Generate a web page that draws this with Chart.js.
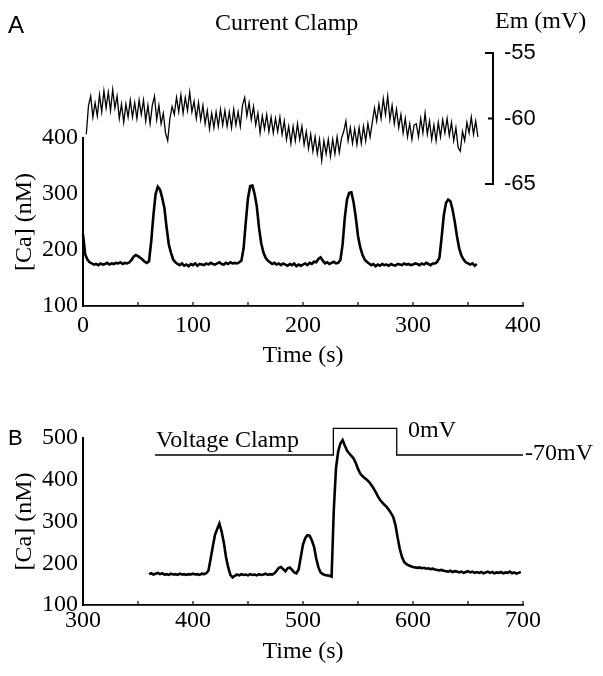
<!DOCTYPE html>
<html>
<head>
<meta charset="utf-8">
<script src="https://cdn.jsdelivr.net/npm/chart.js@4.4.0/dist/chart.umd.min.js"></script>
<style>
  html, body { margin: 0; padding: 0; background: #fff; }
  #wrap { position: relative; width: 603px; height: 676px; }
  canvas { position: absolute; left: 0; }
</style>
</head>
<body>
<div id="wrap">
  <canvas id="chartA" width="603" height="380" style="top:0"></canvas>
  <canvas id="chartB" width="603" height="296" style="top:380px"></canvas>
</div>
<script>
// ---- data ----
// panel A, membrane potential (mV), sampled every 2 s from t = 3 s
const emStart = 3, emStep = 2;
const emValues = [
  -61.2, -59.0, -58.3, -59.9, -58.8, -59.8, -58.2, -59.5, -57.9, -59.2,
  -58.0, -59.4, -57.8, -59.2, -58.3, -60.0, -58.9, -60.3, -58.9, -59.9,
  -58.6, -59.9, -58.8, -60.0, -58.6, -59.7, -58.6, -60.2, -59.0, -60.4,
  -59.0, -58.3, -60.1, -59.0, -60.4, -59.6, -61.1, -61.7, -60.0, -59.1,
  -59.7, -58.4, -59.5, -58.2, -59.6, -58.4, -59.4, -58.0, -59.5, -58.7,
  -60.0, -58.8, -60.1, -59.0, -60.4, -59.4, -60.8, -59.6, -60.7, -59.5,
  -60.6, -59.3, -60.5, -59.4, -60.6, -59.5, -60.7, -59.3, -60.5, -59.5,
  -60.6, -59.0, -58.4, -59.8, -58.8, -60.1, -59.1, -60.5, -59.6, -61.1,
  -59.8, -60.8, -59.7, -61.0, -59.9, -61.1, -60.0, -61.0, -59.9, -61.2,
  -60.2, -61.6, -60.6, -61.9, -60.6, -61.7, -60.4, -61.6, -60.6, -62.0,
  -61.0, -62.3, -61.2, -62.5, -61.4, -62.7, -61.6, -63.2, -61.7, -62.7,
  -61.6, -62.9, -61.6, -62.7, -61.4, -62.6, -61.5, -61.0, -60.2, -61.7,
  -60.7, -61.9, -60.8, -62.0, -60.7, -61.9, -60.6, -61.7, -60.4, -61.4,
  -60.3, -59.2, -60.2, -58.9, -60.0, -58.5, -59.7, -58.3, -60.1, -59.0,
  -60.4, -59.3, -60.7, -59.7, -61.1, -60.0, -61.4, -60.4, -61.6, -60.5,
  -60.4, -61.4, -60.0, -61.1, -59.6, -61.2, -60.2, -61.6, -60.5, -61.7,
  -60.3, -61.4, -60.1, -61.1, -60.0, -61.3, -60.3, -61.7, -60.7, -62.2,
  -62.5, -61.0, -61.7, -60.3, -61.1, -59.9, -61.2, -60.2, -61.4
];

// panel A, [Ca] (nM), every 2 s from t = 0 s
const caAStart = 0, caAStep = 2;
const caAValues = [
  228, 192, 183, 178, 176, 174, 175, 173, 176, 174,
  175, 177, 174, 176, 175, 177, 176, 178, 175, 177,
  176, 178, 182, 188, 191, 189, 186, 183, 179, 177,
  180, 215, 262, 300, 313, 308, 293, 275, 240, 210,
  195, 183, 178, 175, 173, 176, 172, 174, 171, 175,
  173, 176, 172, 175, 174, 173, 176, 174, 177, 175,
  174, 176, 178, 175, 174, 177, 175, 178, 176, 177,
  176, 178, 181, 203, 250, 293, 314, 315, 300, 278,
  240, 212, 196, 186, 181, 178, 175, 177, 174, 176,
  173, 176, 174, 172, 175, 173, 176, 171, 174, 172,
  174, 176, 173, 177, 175, 179, 178, 184, 187, 181,
  176, 178, 175, 177, 179, 176, 177, 182, 210, 258,
  290, 302, 303, 285, 258, 225, 205, 192, 183, 179,
  176, 173, 175, 171, 174, 172, 175, 173, 174, 172,
  175, 173, 172, 175, 174, 173, 176, 174, 175, 173,
  174, 176, 175, 173, 176, 174, 177, 175, 173, 176,
  176, 179, 186, 222, 262, 284, 290, 287, 272, 250,
  224, 203, 190, 183, 178, 176, 174, 176, 172, 175
];

// panel B, [Ca] (nM), every 2 s from t = 360 s
const caBStart = 360, caBStep = 2;
const caBValues = [
  174, 176, 173, 175, 177, 174, 176, 173, 174, 172,
  175, 173, 174, 172, 175, 173, 174, 172, 174, 173,
  175, 173, 174, 172, 175, 174, 176, 182, 210, 240,
  268, 282, 295, 276, 250, 215, 190, 172, 166, 170,
  173, 171, 174, 172, 173, 171, 174, 172, 173, 171,
  174, 172, 173, 175, 172, 174, 173, 176, 182, 189,
  191, 186, 181, 188, 190, 184, 178, 176, 185, 215,
  245, 260, 267, 266, 255, 240, 212, 190, 178, 174,
  172, 171, 170, 168, 328, 428, 468, 487, 495, 482,
  470, 463, 457, 451, 440, 426, 415, 409, 404, 400,
  395, 388, 380, 371, 361, 352, 346, 340, 335, 328,
  320, 311, 292, 262, 234, 215, 203, 198, 195, 193,
  191, 190, 189, 190, 188, 189, 187, 188, 186, 187,
  185, 184, 183, 184, 182, 181, 180, 182, 179, 181,
  180, 178, 180, 177, 179, 181, 178, 180, 177, 179,
  177, 179, 176, 178, 180, 177, 179, 176, 178, 177,
  179, 176, 178, 177, 180, 176, 178, 175, 177, 179
];

// panel B, command voltage steps
const vTimes = [365.5, 527.6, 585.2, 700];
const vLevels = [-70, 0, -70, -70];

const emTicks = [-55, -60, -65];

// ---- helpers ----
function series(start, step, values) {
  return values.map((v, i) => ({ x: start + i * step, y: v }));
}

function innerTicks(ctx, scale, y, step, len) {
  ctx.lineWidth = 1.2;
  ctx.beginPath();
  for (let v = scale.min + step; v <= scale.max + 0.01; v += step) {
    const px = scale.getPixelForValue(v);
    ctx.moveTo(px, y);
    ctx.lineTo(px, y - len);
  }
  ctx.stroke();
}

Chart.defaults.font.family = '"Liberation Serif", "Times New Roman", serif';
Chart.defaults.font.size = 24;
Chart.defaults.color = '#000';

const axisLine = { display: true, color: '#000', width: 1.8 };
const noGrid = { display: true, drawOnChartArea: false, drawTicks: false };

// ---- panel A ----
const annotateA = {
  id: 'annotateA',
  afterDraw(chart) {
    const { ctx, scales } = chart;
    const x = scales.x, em = scales.em;
    ctx.save();
    ctx.strokeStyle = '#000';
    ctx.fillStyle = '#000';
    innerTicks(ctx, x, chart.chartArea.bottom, 50, 4);

    // Em scale bracket
    const bx = x.getPixelForValue(372.7);
    const yTop = em.getPixelForValue(-55);
    const yMid = em.getPixelForValue(-60);
    const yBot = em.getPixelForValue(-65);
    ctx.lineWidth = 2;
    ctx.beginPath();
    ctx.moveTo(bx - 8, yTop); ctx.lineTo(bx, yTop);
    ctx.lineTo(bx, yBot); ctx.lineTo(bx - 8, yBot);
    ctx.moveTo(bx - 5, yMid); ctx.lineTo(bx, yMid);
    ctx.stroke();

    ctx.font = '22px "Liberation Sans", Arial, sans-serif';
    ctx.textAlign = 'left';
    ctx.textBaseline = 'middle';
    emTicks.forEach(v => ctx.fillText(String(v), bx + 11, em.getPixelForValue(v)));

    ctx.textBaseline = 'alphabetic';
    ctx.font = '24px "Liberation Serif", serif';
    ctx.fillText('Em (mV)', 495, 28);
    ctx.fillText('Current Clamp', 215, 30);
    ctx.font = '24px "Liberation Sans", Arial, sans-serif';
    ctx.fillText('A', 8, 33);
    ctx.restore();
  }
};

new Chart(document.getElementById('chartA'), {
  type: 'line',
  data: {
    datasets: [
      {
        label: 'Em',
        data: series(emStart, emStep, emValues),
        xAxisID: 'x', yAxisID: 'em',
        borderColor: '#000', borderWidth: 1.3,
        pointRadius: 0, tension: 0, clip: false
      },
      {
        label: '[Ca]',
        data: series(caAStart, caAStep, caAValues),
        xAxisID: 'x', yAxisID: 'ca',
        borderColor: '#000', borderWidth: 2.6,
        pointRadius: 0, tension: 0, clip: false
      }
    ]
  },
  options: {
    responsive: false,
    animation: false,
    events: [],
    layout: { padding: { left: 0, right: 80, top: 138, bottom: 0 } },
    plugins: { legend: { display: false }, tooltip: { enabled: false } },
    scales: {
      x: {
        type: 'linear', min: 0, max: 400,
        border: axisLine, grid: noGrid,
        ticks: { stepSize: 100, padding: 5, maxRotation: 0 },
        title: { display: true, text: 'Time (s)', padding: { top: 0, bottom: 10 } },
        afterFit(s) { s.height = 74; s.paddingLeft = 0; s.paddingRight = 0; }
      },
      ca: {
        axis: 'y', type: 'linear', position: 'left', min: 100, max: 400,
        border: { display: true, color: '#000', width: 2 }, grid: noGrid,
        ticks: { stepSize: 100, padding: 5 },
        title: { display: true, text: '[Ca] (nM)', padding: { top: 10, bottom: 0 } },
        afterFit(s) { s.width = 83; s.paddingTop = 0; s.paddingBottom = 0; }
      },
      em: { axis: 'y', type: 'linear', position: 'right', display: false, min: -74.31, max: -61.49 }
    }
  },
  plugins: [annotateA]
});

// ---- panel B ----
const annotateB = {
  id: 'annotateB',
  afterDraw(chart) {
    const { ctx, scales } = chart;
    const x = scales.x, v = scales.v;
    ctx.save();
    ctx.strokeStyle = '#000';
    ctx.fillStyle = '#000';
    innerTicks(ctx, x, chart.chartArea.bottom, 50, 4);

    const yRest = v.getPixelForValue(-70);
    const yStep = v.getPixelForValue(0);
    ctx.font = '24px "Liberation Serif", serif';
    ctx.textAlign = 'left';
    ctx.textBaseline = 'alphabetic';
    ctx.fillText('Voltage Clamp', 156, yRest - 8);
    ctx.fillText('0mV', x.getPixelForValue(595.5), yStep + 9);
    ctx.fillText('-70mV', x.getPixelForValue(700) + 2, yRest + 5);
    ctx.font = '22px "Liberation Sans", Arial, sans-serif';
    ctx.fillText('B', 8, 65);
    ctx.restore();
  }
};

new Chart(document.getElementById('chartB'), {
  type: 'line',
  data: {
    datasets: [
      {
        label: 'V',
        data: vTimes.map((t, i) => ({ x: t, y: vLevels[i] })),
        xAxisID: 'x', yAxisID: 'v',
        borderColor: '#000', borderWidth: 1.3,
        pointRadius: 0, stepped: 'before', clip: false
      },
      {
        label: '[Ca]',
        data: series(caBStart, caBStep, caBValues),
        xAxisID: 'x', yAxisID: 'ca',
        borderColor: '#000', borderWidth: 2.6,
        pointRadius: 0, tension: 0, clip: false
      }
    ]
  },
  options: {
    responsive: false,
    animation: false,
    events: [],
    layout: { padding: { left: 0, right: 80, top: 58, bottom: 0 } },
    plugins: { legend: { display: false }, tooltip: { enabled: false } },
    scales: {
      x: {
        type: 'linear', min: 300, max: 700,
        border: axisLine, grid: noGrid,
        ticks: { stepSize: 100, padding: 1, maxRotation: 0 },
        title: { display: true, text: 'Time (s)', padding: { top: 0, bottom: 10 } },
        afterFit(s) { s.height = 71; s.paddingLeft = 0; s.paddingRight = 0; }
      },
      ca: {
        axis: 'y', type: 'linear', position: 'left', min: 100, max: 500,
        border: { display: true, color: '#000', width: 2 }, grid: noGrid,
        ticks: { stepSize: 100, padding: 5 },
        title: { display: true, text: '[Ca] (nM)', padding: { top: 10, bottom: 0 } },
        afterFit(s) { s.width = 83; s.paddingTop = 0; s.paddingBottom = 0; }
      },
      v: { axis: 'y', type: 'linear', position: 'right', display: false, min: -463.3, max: -25.4 }
    }
  },
  plugins: [annotateB]
});
</script>
</body>
</html>
